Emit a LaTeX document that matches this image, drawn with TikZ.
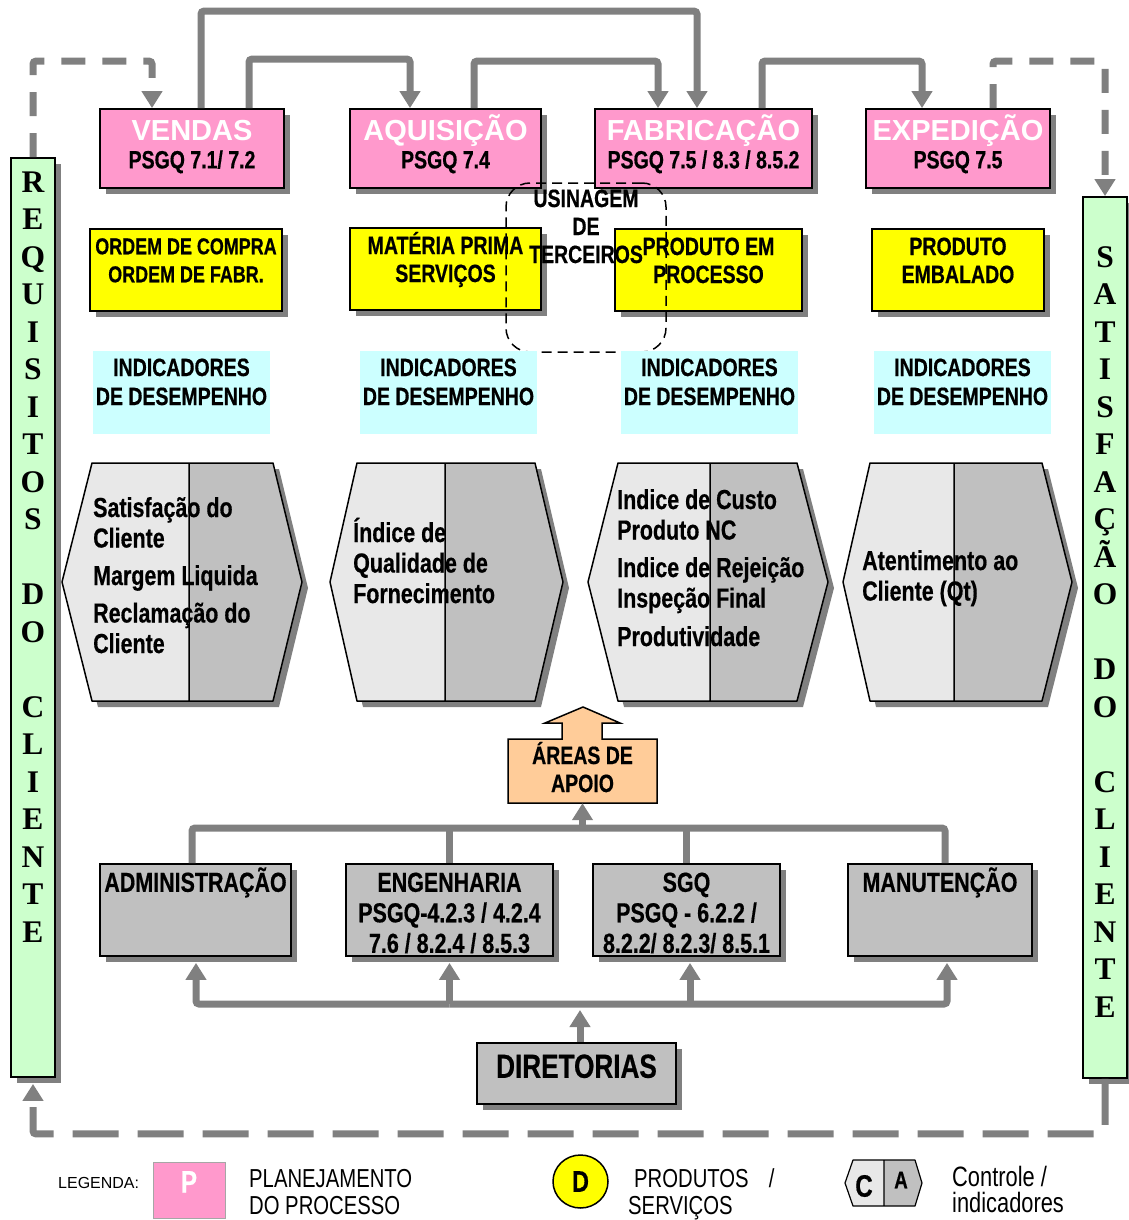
\documentclass[tikz,border=0pt]{standalone}
\usepackage{fontspec}
\setmainfont{Liberation Sans}
\newfontfamily\narrowfont[FakeStretch=0.78,BoldFeatures={FakeBold=0.5}]{Liberation Sans}
\newfontfamily\serifletters{Liberation Serif}
\usetikzlibrary{shadows,arrows.meta,shapes.geometric}

\definecolor{pinkfill}{HTML}{FF99CC}
\definecolor{yellowfill}{HTML}{FFFF00}
\definecolor{cyanfill}{HTML}{CCFFFF}
\definecolor{greenfill}{HTML}{CCFFCC}
\definecolor{peachfill}{HTML}{FFCC99}
\definecolor{hexlight}{HTML}{E8E8E8}
\definecolor{boxgray}{HTML}{C0C0C0}
\definecolor{linegray}{HTML}{808080}
\definecolor{shadowgray}{HTML}{808080}

% font set-ups
\newcommand\ftitle{\normalfont\bfseries\fontsize{29}{30}\selectfont}
\newcommand\fsub{\narrowfont\bfseries\fontsize{25}{28}\selectfont}
\newcommand\fsubsmall{\narrowfont\bfseries\fontsize{23}{28}\selectfont}
\newcommand\findic{\narrowfont\bfseries\fontsize{25}{29}\selectfont}
\newcommand\fhex{\narrowfont\bfseries\fontsize{27.5}{30.5}\selectfont}
\newcommand\fdept{\narrowfont\bfseries\fontsize{27.5}{30.5}\selectfont}
\newcommand\fdir{\narrowfont\bfseries\fontsize{33.5}{36}\selectfont}
\newcommand\fletters{\serifletters\bfseries\fontsize{31.5}{37.5}\selectfont}
\newcommand\flegsmall{\normalfont\fontsize{16}{18}\selectfont}
\newcommand\flegtext{\narrowfont\fontsize{26}{27}\selectfont}
\newcommand\flegtextb{\narrowfont\fontsize{28}{26}\selectfont}

% box text: width, height, first baseline from top, alignment, text
\newcommand\boxtext[5]{\parbox[c][#2pt][t]{#1pt}{#4\vspace*{\dimexpr#3pt-30pt\relax}\rule{0pt}{30pt}#5}}

% two-tone hexagon with shadow: left tip x, top-left x, top-right x, right tip x, divider x, top y, mid y, bottom y
\newcommand\hexshape[8]{%
  \begin{scope}[shift={(6,6)}]
    \fill[shadowgray] (#1,#7)--(#2,#6)--(#3,#6)--(#4,#7)--(#3,#8)--(#2,#8)--cycle;
  \end{scope}
  \fill[hexlight] (#1,#7)--(#2,#6)--(#5,#6)--(#5,#8)--(#2,#8)--cycle;
  \fill[boxgray] (#5,#6)--(#3,#6)--(#4,#7)--(#3,#8)--(#5,#8)--cycle;
  \draw[hexedge] (#1,#7)--(#2,#6)--(#3,#6)--(#4,#7)--(#3,#8)--(#2,#8)--cycle (#5,#6)--(#5,#8);
}

\tikzset{
  boxshadow/.style={general shadow={fill=shadowgray, shadow xshift=6pt, shadow yshift=-6pt}},
  framed/.style={draw=black, line width=1.8pt, inner sep=0pt, boxshadow},
  planbox/.style={framed, fill=pinkfill, font=\fsub},
  prodbox/.style={framed, fill=yellowfill, font=\fsub},
  indbox/.style={fill=cyanfill, inner sep=0pt, font=\findic},
  deptbox/.style={framed, fill=boxgray, font=\fdept},
  reqbar/.style={framed, fill=greenfill, font=\fletters},
  hextext/.style={inner sep=0pt, anchor=north west, font=\fhex},
  flow/.style={draw=linegray, line width=7pt, rounded corners=3pt, -{Triangle[width=20pt,length=17pt]}},
  bus/.style={draw=linegray, line width=7pt, rounded corners=3pt},
  dashflow/.style={flow, dash pattern=on 24pt off 17pt},
  hexedge/.style={draw=black, line width=1.5pt, line join=round},
}

\begin{document}
\begin{tikzpicture}[x=1pt,y=-1pt]
\path[use as bounding box, fill=white] (0,0) rectangle (1128,1220);

% customer bars
\node[reqbar] (req) at (33,617.5) {\boxtext{44}{919}{34.3}{\centering}{R\\E\\Q\\U\\I\\S\\I\\T\\O\\S\\\mbox{}\\D\\O\\\mbox{}\\C\\L\\I\\E\\N\\T\\E}};
\node[reqbar] (sat) at (1105,637.5) {\boxtext{44}{881}{70.3}{\centering}{S\\A\\T\\I\\S\\F\\A\\Ç\\Ã\\O\\\mbox{}\\D\\O\\\mbox{}\\C\\L\\I\\E\\N\\T\\E}};

% process planning
\node[planbox] (vendas) at (192,148.5) {\boxtext{184}{79}{31.4}{\centering}{{\ftitle\color{white}VENDAS}\\PSGQ 7.1/ 7.2}};
\node[planbox] (aquis) at (445.5,148.5) {\boxtext{191}{79}{31.4}{\centering}{{\ftitle\color{white}AQUISIÇÃO}\\PSGQ 7.4}};
\node[planbox] (fab) at (703.5,148.5) {\boxtext{217}{79}{31.4}{\centering}{{\ftitle\color{white}FABRICAÇÃO}\\PSGQ 7.5 / 8.3 / 8.5.2}};
\node[planbox] (exped) at (958,148.5) {\boxtext{184}{79}{31.4}{\centering}{{\ftitle\color{white}EXPEDIÇÃO}\\PSGQ 7.5}};

% products / services
\node[prodbox, font=\fsubsmall] (ordem) at (186,270) {\boxtext{192}{82}{25.3}{\centering}{ORDEM DE COMPRA\\ORDEM DE FABR.}};
\node[prodbox] (materia) at (445.5,269) {\boxtext{191}{82}{26}{\centering}{MATÉRIA PRIMA\\SERVIÇOS}};
\node[prodbox] (processo) at (708.5,270) {\boxtext{187}{82}{26}{\centering}{PRODUTO EM\\PROCESSO}};
\node[prodbox] (embalado) at (958,270) {\boxtext{172}{82}{26}{\centering}{PRODUTO\\EMBALADO}};

% outsourced machining
\node[draw=black, line width=1.5pt, dash pattern=on 10pt off 6pt, rounded corners=24pt, inner sep=0pt, font=\fsub] (usin) at (586,267.5) {\boxtext{160}{169}{24}{\centering}{USINAGEM\\DE\\TERCEIROS}};

% performance indicators
\node[indbox] (ind1) at (181.5,392.5) {\boxtext{177}{83}{25}{\centering}{INDICADORES\\DE DESEMPENHO}};
\node[indbox] (ind2) at (448.5,392.5) {\boxtext{177}{83}{25}{\centering}{INDICADORES\\DE DESEMPENHO}};
\node[indbox] (ind3) at (709.5,392.5) {\boxtext{177}{83}{25}{\centering}{INDICADORES\\DE DESEMPENHO}};
\node[indbox] (ind4) at (962.5,392.5) {\boxtext{177}{83}{25}{\centering}{INDICADORES\\DE DESEMPENHO}};

% control hexagons
\hexshape{62}{92}{273}{302}{189}{463}{582}{701}
\hexshape{330}{357}{535}{563}{445}{463}{582}{701}
\hexshape{588}{618}{797}{828}{710}{463}{582}{701}
\hexshape{843}{870}{1042}{1072}{954}{463}{582}{701}
\node[hextext] (h1) at (93,463) {\boxtext{205}{220}{53.8}{\raggedright}{Satisfação do\\Cliente\\[7pt]Margem Liquida\\[7pt]Reclamação do\\Cliente}};
\node[hextext] (h2) at (353,463) {\boxtext{205}{220}{78.8}{\raggedright}{Índice de\\Qualidade de\\Fornecimento}};
\node[hextext] (h3) at (617,463) {\boxtext{205}{220}{45.8}{\raggedright}{Indice de Custo\\Produto NC\\[7pt]Indice de Rejeição\\Inspeção Final\\[8pt]Produtividade}};
\node[hextext] (h4) at (862,463) {\boxtext{205}{220}{106.8}{\raggedright}{Atentimento ao\\Cliente (Qt)}};

% support areas (box with upward arrow)
\filldraw[fill=peachfill, draw=black, line width=1.5pt, line join=miter]
  (508,739)--(562,739)--(562,723)--(545,723)--(583,707)--(620,723)--(602,723)--(602,739)--(657,739)--(657,803)--(508,803)--cycle;
\node[inner sep=0pt, font=\fsub] (apoio) at (582.5,771) {\boxtext{149}{64}{25}{\centering}{ÁREAS DE\\APOIO}};

% departments
\node[deptbox] (adm) at (195.5,910) {\boxtext{191}{92}{27.8}{\centering}{ADMINISTRAÇÃO}};
\node[deptbox] (eng) at (449.5,910) {\boxtext{207}{92}{27.8}{\centering}{ENGENHARIA\\PSGQ-4.2.3 / 4.2.4\\7.6 / 8.2.4 / 8.5.3}};
\node[deptbox] (sgq) at (686.5,910) {\boxtext{187}{92}{27.8}{\centering}{SGQ\\PSGQ - 6.2.2 /\\8.2.2/ 8.2.3/ 8.5.1}};
\node[deptbox] (man) at (940,910) {\boxtext{184}{92}{27.8}{\centering}{MANUTENÇÃO}};
\node[deptbox, font=\fdir] (dir) at (576.5,1073.5) {\boxtext{199}{61}{34.8}{\centering}{DIRETORIAS}};

% flows between the processes
\draw[flow] ([xshift=9pt]vendas.north) -- ++(0,-97) -| ([xshift=-6.5pt]fab.north);
\draw[flow] ([xshift=57pt]vendas.north) -- ++(0,-49) -| ([xshift=-35.5pt]aquis.north);
\draw[flow] ([xshift=28.5pt]aquis.north) -- ++(0,-47) -| ([xshift=-45.5pt]fab.north);
\draw[flow] ([xshift=58.5pt]fab.north) -- ++(0,-47) -| ([xshift=-36pt]exped.north);

% customer loop
\draw[dashflow] (req.north) -- ++(0,-96) -| ([xshift=-40pt]vendas.north);
\draw[dashflow] ([xshift=35pt]exped.north) -- ++(0,-47) -| (sat.north);
\draw[dashflow, dash pattern=on 46pt off 19pt] (sat.south) -- ++(0,55) -| ([yshift=-6pt]req.south);

% support bus
\coordinate (bustop) at (582.5,828);
\draw[bus] ([xshift=-3.5pt]adm.north) |- (bustop) -| ([xshift=5pt]man.north);
\draw[bus] (eng.north) -- (eng.north |- bustop);
\draw[bus] (sgq.north) -- (sgq.north |- bustop);
\draw[flow] (bustop) -- (apoio.south);

% management bus
\coordinate (busbot) at (580,1004);
\draw[flow] (eng.south |- busbot) -| ([xshift=0.5pt,yshift=-6pt]adm.south);
\draw[flow] (eng.south |- busbot) -| ([xshift=7pt,yshift=-6pt]man.south);
\draw[flow] (eng.south |- busbot) -- ([yshift=-6pt]eng.south);
\draw[flow] ([xshift=3.5pt]sgq.south |- busbot) -- ([xshift=3.5pt,yshift=-6pt]sgq.south);
\draw[flow] ([xshift=3.5pt]dir.north) -- ([yshift=-6pt]busbot);

% legend
\node[anchor=west, inner sep=0pt, font=\flegsmall] (legenda) at (58,1183) {LEGENDA:};
\node[fill=pinkfill, draw=black!35, line width=1pt, inner sep=0pt, font=\narrowfont\bfseries\fontsize{31}{32}\selectfont] (legP) at (189,1190) {\boxtext{72}{56}{30.5}{\centering}{\color{white}P}};
\node[anchor=north west, inner sep=0pt, font=\flegtext] (legPtxt) at (249,1162) {\boxtext{190}{54}{25.2}{\raggedright}{PLANEJAMENTO\\DO PROCESSO}};
\node[ellipse, draw=black, line width=1.5pt, fill=yellowfill, minimum width=55pt, minimum height=53pt, inner sep=0pt, font=\narrowfont\bfseries\fontsize{30}{30}\selectfont] (legD) at (580.5,1181.5) {D};
\node[anchor=north west, inner sep=0pt, font=\flegtext] (legDtxt) at (628,1162) {\boxtext{190}{54}{25.2}{\raggedright}{\hspace*{6pt}PRODUTOS\hspace{20pt}/\\SERVIÇOS}};
\fill[hexlight] (845,1183)--(853,1160)--(884,1160)--(884,1206)--(853,1206)--cycle;
\fill[boxgray] (884,1160)--(915,1160)--(922,1183)--(915,1206)--(884,1206)--cycle;
\draw[hexedge, line width=1.2pt] (845,1183)--(853,1160)--(915,1160)--(922,1183)--(915,1206)--(853,1206)--cycle (884,1160)--(884,1206);
\node[inner sep=0pt, font=\narrowfont\bfseries\fontsize{31}{32}\selectfont] (legC) at (864,1186) {C};
\node[inner sep=0pt, font=\narrowfont\bfseries\fontsize{24}{24}\selectfont] (legA) at (901,1180) {A};
\node[anchor=north west, inner sep=0pt, font=\flegtextb] (legCtxt) at (952,1160) {\boxtext{170}{54}{26.5}{\raggedright}{Controle /\\indicadores}};
\end{tikzpicture}
\end{document}
